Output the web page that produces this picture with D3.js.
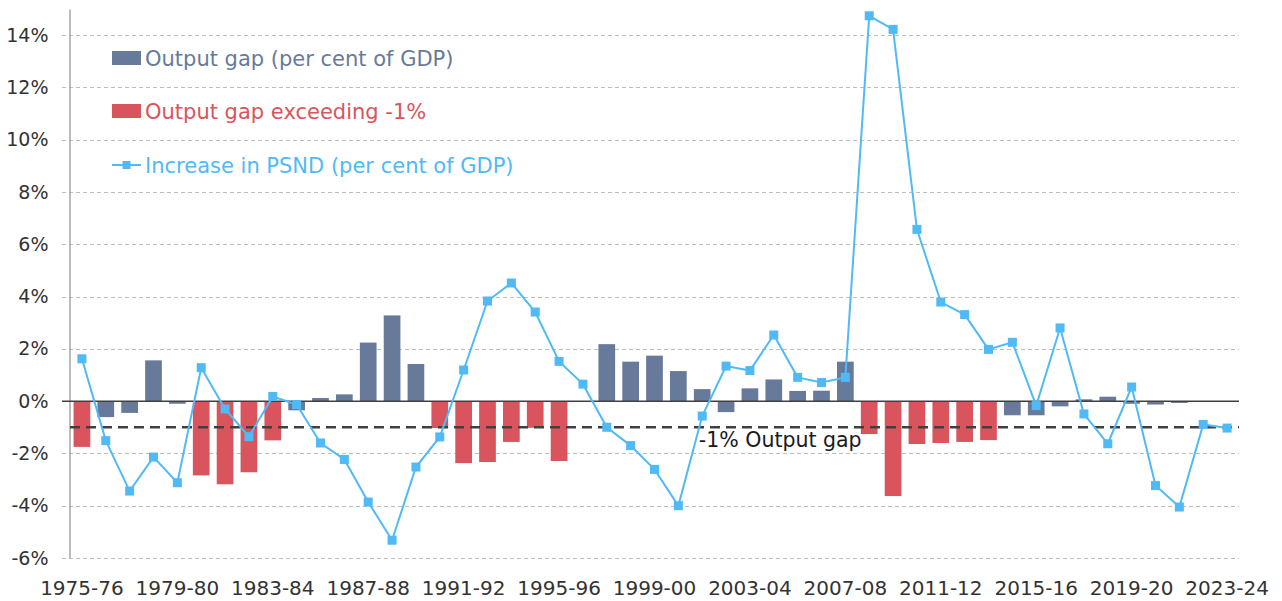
<!DOCTYPE html>
<html>
<head>
<meta charset="utf-8">
<script src="https://cdn.jsdelivr.net/npm/d3@7"></script>
<style>
  body { margin: 0; background: #fff; }
  svg text { font-family: "DejaVu Sans", sans-serif; }
</style>
</head>
<body>
<script>
// fiscal years 1975-76 .. 2023-24
var years = d3.range(1975, 2024).map(function(y) {
  return y + "-" + String((y + 1) % 100).padStart(2, "0");
});

// output gap, per cent of GDP
var outputGap = [
  -1.75, -0.61, -0.45, 1.56, -0.10, -2.84, -3.18, -2.72, -1.50, -0.35,
  0.12, 0.26, 2.24, 3.28, 1.42, -1.03, -2.37, -2.33, -1.56, -1.02,
  -2.29, 0.00, 2.18, 1.51, 1.74, 1.15, 0.46, -0.42, 0.49, 0.83,
  0.39, 0.40, 1.51, -1.26, -3.63, -1.64, -1.60, -1.56, -1.49, -0.54,
  -0.54, -0.20, 0.07, 0.17, -0.10, -0.13, -0.07, 0.00, 0.00
];

// increase in PSND, per cent of GDP
var psnd = [
  1.62, -1.51, -3.44, -2.14, -3.12, 1.28, -0.30, -1.36, 0.18, -0.13,
  -1.60, -2.23, -3.86, -5.32, -2.52, -1.37, 1.19, 3.83, 4.52, 3.41,
  1.52, 0.65, -1.00, -1.70, -2.61, -4.00, -0.57, 1.34, 1.17, 2.53,
  0.91, 0.71, 0.91, 14.74, 14.22, 6.57, 3.79, 3.31, 1.98, 2.25,
  -0.17, 2.80, -0.49, -1.63, 0.54, -3.23, -4.05, -0.89, -1.03
];

var yTicks = [-6, -4, -2, 0, 2, 4, 6, 8, 10, 12, 14];
var threshold = -1;

var seriesNames = ["Output gap (per cent of GDP)", "Output gap exceeding -1%", "Increase in PSND (per cent of GDP)"];
var colBlue = "#687a9a", colRed = "#d9545d", colLine = "#4fbaf5";

var W = 1282, H = 601;
var m = {left: 70, right: 43, top: 9, bottom: 43};

var svg = d3.select("body").append("svg")
  .attr("width", W)
  .attr("height", H);

var x = d3.scaleBand()
  .domain(years)
  .range([m.left, W - m.right])
  .paddingInner(0.3)
  .paddingOuter(0.15);

var y = d3.scaleLinear()
  .domain([-6, 15])
  .range([H - m.bottom, m.top]);

// grid
svg.append("g")
  .selectAll("line")
  .data(yTicks)
  .join("line")
    .attr("x1", m.left - 8)
    .attr("x2", W - m.right)
    .attr("y1", function(d) { return Math.round(y(d)) + 0.5; })
    .attr("y2", function(d) { return Math.round(y(d)) + 0.5; })
    .attr("stroke", "#bdbdbd")
    .attr("stroke-width", 1)
    .attr("stroke-dasharray", "4,3");

// y axis
var yAxis = svg.append("g")
  .attr("transform", "translate(" + (m.left - 0.5) + ",0)")
  .call(d3.axisLeft(y).tickValues(yTicks).tickSize(0).tickPadding(21)
    .tickFormat(function(d) { return d + "%"; }));
yAxis.select(".domain").attr("stroke", "#a6a6a6").attr("stroke-width", 1.5);
yAxis.selectAll("text").attr("font-size", 19).attr("fill", "#333")
  .attr("font-family", "DejaVu Sans");

// bars
svg.append("g")
  .selectAll("rect")
  .data(outputGap)
  .join("rect")
    .attr("x", function(d, i) { return x(years[i]); })
    .attr("width", x.bandwidth())
    .attr("y", function(d) { return y(Math.max(0, d)); })
    .attr("height", function(d) { return Math.abs(y(d) - y(0)); })
    .attr("fill", function(d) { return d < threshold ? colRed : colBlue; });

// zero line
svg.append("line")
  .attr("x1", m.left - 8).attr("x2", W - m.right)
  .attr("y1", y(0)).attr("y2", y(0))
  .attr("stroke", "#404040").attr("stroke-width", 1.5);

// -1% line
svg.append("line")
  .attr("x1", m.left).attr("x2", W - m.right)
  .attr("y1", y(threshold)).attr("y2", y(threshold))
  .attr("stroke", "#404040").attr("stroke-width", 2.5)
  .attr("stroke-dasharray", "10,6");

svg.append("text")
  .attr("x", x(years[26]) + 5)
  .attr("y", y(threshold) + 20)
  .attr("font-size", 20.5)
  .attr("fill", "#1a1a1a")
  .text("-1% Output gap");

// PSND line
var cx = function(d, i) { return x(years[i]) + x.bandwidth() / 2; };
svg.append("path")
  .datum(psnd)
  .attr("fill", "none")
  .attr("stroke", colLine)
  .attr("stroke-width", 2)
  .attr("d", d3.line().x(cx).y(function(d) { return y(d); }));

svg.append("g")
  .selectAll("rect")
  .data(psnd)
  .join("rect")
    .attr("x", function(d, i) { return cx(d, i) - 4.5; })
    .attr("y", function(d) { return y(d) - 4.5; })
    .attr("width", 9).attr("height", 9)
    .attr("fill", colLine);

// x labels every 4 years
var xAxis = svg.append("g")
  .attr("transform", "translate(0," + (H - m.bottom) + ")")
  .call(d3.axisBottom(x).tickValues(years.filter(function(d, i) { return i % 4 === 0; }))
    .tickSize(0).tickPadding(23));
xAxis.select(".domain").remove();
xAxis.selectAll("text").attr("font-size", 20).attr("fill", "#333")
  .attr("font-family", "DejaVu Sans");

// legend
var legend = svg.append("g").attr("transform", "translate(112,0)");
var legY = [58, 111, 165];
var legCol = [colBlue, colRed, colLine];
seriesNames.forEach(function(name, i) {
  var g = legend.append("g").attr("transform", "translate(0," + legY[i] + ")");
  if (i < 2) {
    g.append("rect").attr("x", 0).attr("y", -7).attr("width", 29).attr("height", 14)
      .attr("fill", legCol[i]);
  } else {
    g.append("line").attr("x1", 0).attr("x2", 29).attr("y1", 0).attr("y2", 0)
      .attr("stroke", legCol[i]).attr("stroke-width", 2);
    g.append("rect").attr("x", 10.5).attr("y", -4).attr("width", 8).attr("height", 8)
      .attr("fill", legCol[i]);
  }
  g.append("text").attr("x", 33).attr("y", 8)
    .attr("font-size", 21)
    .attr("fill", legCol[i])
    .text(name);
});
</script>
</body>
</html>
